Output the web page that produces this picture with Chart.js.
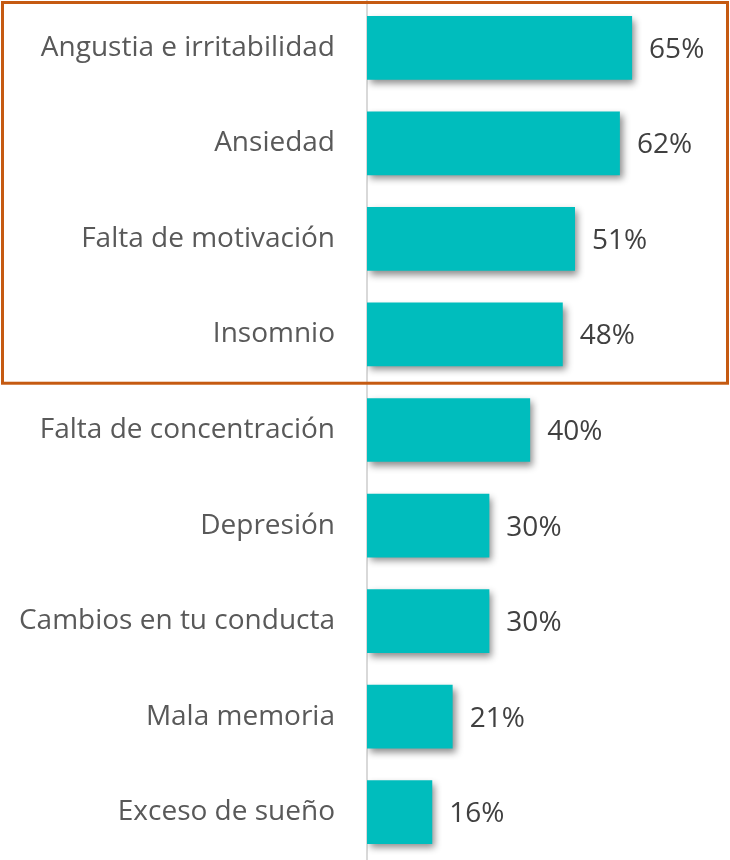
<!DOCTYPE html>
<html>
<head>
<meta charset="utf-8">
<script src="https://cdn.jsdelivr.net/npm/chart.js@4.4.0/dist/chart.umd.min.js"></script>
<style>
  html, body { margin: 0; padding: 0; background: #ffffff; }
  #wrap { position: relative; width: 730px; height: 860px; }
</style>
</head>
<body>
<div id="wrap"><canvas id="c" width="730" height="860"></canvas></div>
<script>
const categories = [
  "Angustia e irritabilidad",
  "Ansiedad",
  "Falta de motivación",
  "Insomnio",
  "Falta de concentración",
  "Depresión",
  "Cambios en tu conducta",
  "Mala memoria",
  "Exceso de sueño"
];
const values = [65, 62, 51, 48, 40, 30, 30, 21, 16];
const valueLabels = ["65%", "62%", "51%", "48%", "40%", "30%", "30%", "21%", "16%"];
const highlightCount = 4;

const FONT = "'Open Sans', sans-serif";

const shadowPlugin = {
  id: 'barShadow',
  beforeDatasetDraw(chart) {
    const ctx = chart.ctx;
    ctx.save();
    ctx.shadowColor = 'rgba(0,0,0,0.45)';
    ctx.shadowBlur = 7;
    ctx.shadowOffsetX = 3;
    ctx.shadowOffsetY = 4;
  },
  afterDatasetDraw(chart) {
    chart.ctx.restore();
  }
};

const valueLabelPlugin = {
  id: 'valueLabels',
  afterDatasetsDraw(chart) {
    const ctx = chart.ctx;
    const meta = chart.getDatasetMeta(0);
    ctx.save();
    ctx.font = "28px " + FONT;
    ctx.fillStyle = '#404040';
    ctx.textAlign = 'left';
    ctx.textBaseline = 'middle';
    meta.data.forEach((bar, i) => {
      ctx.fillText(valueLabels[i], bar.x + 17, bar.y + 2);
    });
    ctx.restore();
  }
};

const boxPlugin = {
  id: 'highlightBox',
  afterDraw(chart) {
    const ctx = chart.ctx;
    const y = chart.scales.y;
    const bottom = y.getPixelForValue(highlightCount - 0.5);
    ctx.save();
    ctx.strokeStyle = '#C55A11';
    ctx.lineWidth = 3;
    ctx.strokeRect(2.5, 2.5, chart.width - 5, bottom - 2.5 + 1);
    ctx.restore();
  }
};

new Chart(document.getElementById('c'), {
  type: 'bar',
  data: {
    labels: categories,
    datasets: [{
      data: values,
      backgroundColor: '#00BDBD',
      borderWidth: 0,
      barPercentage: 0.667,
      categoryPercentage: 1.0
    }]
  },
  options: {
    indexAxis: 'y',
    responsive: false,
    animation: false,
    devicePixelRatio: 1,
    layout: { padding: { left: 0, right: 0, top: -1, bottom: -3 } },
    plugins: { legend: { display: false }, tooltip: { enabled: false } },
    scales: {
      x: {
        display: false,
        min: 0,
        max: 89,
        grid: { display: false }
      },
      y: {
        afterFit(scale) {
          scale.width = 367;
          scale.paddingTop = 0;
          scale.paddingBottom = 0;
        },
        grid: { display: false, drawTicks: false },
        border: { display: true, color: '#D9D9D9', width: 2 },
        ticks: {
          padding: 32,
          color: '#595959',
          font: { family: FONT, size: 28 }
        }
      }
    }
  },
  plugins: [shadowPlugin, valueLabelPlugin, boxPlugin]
});
</script>
</body>
</html>
